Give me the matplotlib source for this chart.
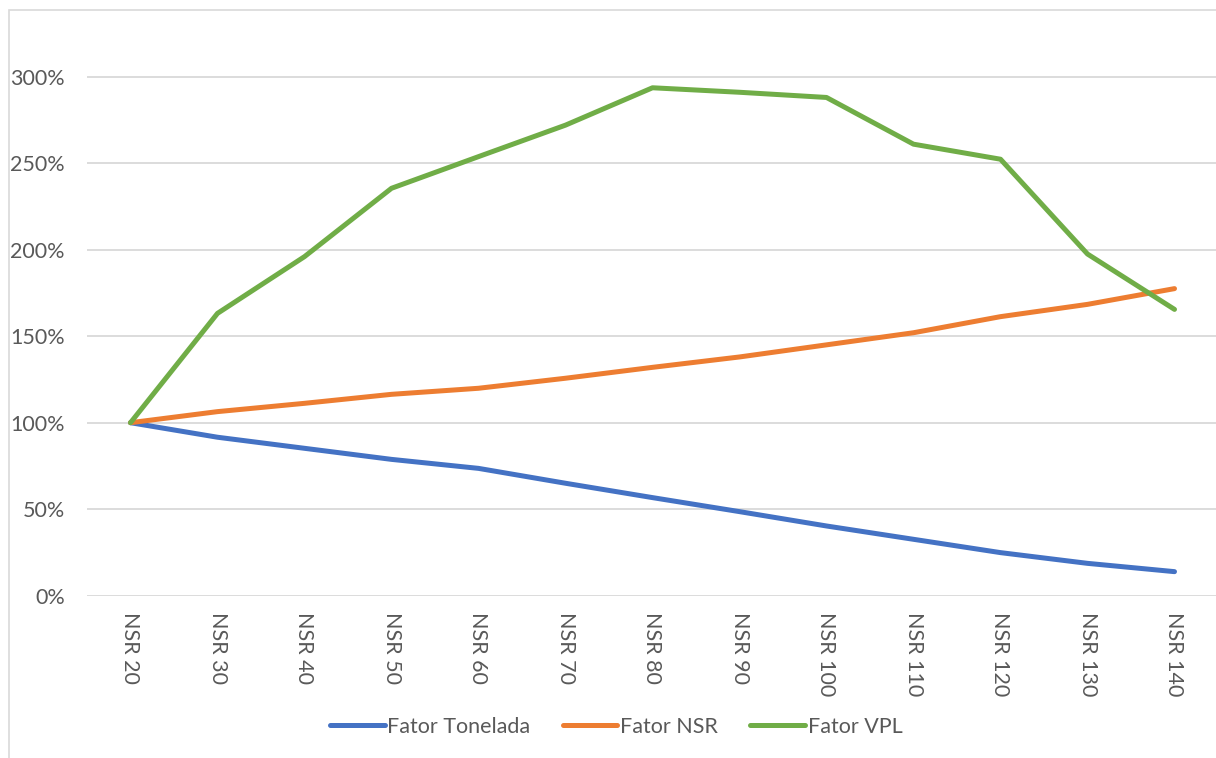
import matplotlib
matplotlib.use("Agg")
import matplotlib.pyplot as plt
from matplotlib.patches import Rectangle
from matplotlib.ticker import FuncFormatter

categories = ["NSR 20", "NSR 30", "NSR 40", "NSR 50", "NSR 60", "NSR 70", "NSR 80",
              "NSR 90", "NSR 100", "NSR 110", "NSR 120", "NSR 130", "NSR 140"]
fator_tonelada = [1.000, 0.916, 0.852, 0.788, 0.736, 0.650, 0.567,
                  0.486, 0.403, 0.326, 0.249, 0.187, 0.139]
fator_nsr = [1.000, 1.064, 1.112, 1.164, 1.199, 1.257, 1.320,
             1.380, 1.450, 1.520, 1.613, 1.684, 1.775]
fator_vpl = [1.000, 1.632, 1.960, 2.355, 2.538, 2.720, 2.936,
             2.910, 2.880, 2.610, 2.523, 1.975, 1.655]

series = [("Fator Tonelada", fator_tonelada, "#4472C4"),
          ("Fator NSR", fator_nsr, "#ED7D31"),
          ("Fator VPL", fator_vpl, "#70AD47")]

W, H = 1216, 758
FS = 15.5
plt.rcParams["font.family"] = ["Lato", "DejaVu Sans"]
fig = plt.figure(figsize=(W / 100, H / 100), dpi=100)

# chart-area frame
fig.patches.append(Rectangle((9 / W, -0.05), 1.1, 1 - 10 / H + 0.05, transform=fig.transFigure,
                             fill=False, edgecolor="#D9D9D9", linewidth=1.2, zorder=0))

# value axis runs 0..350 %, 173 px per 100 %; 87 px per category slot
ax = fig.add_axes([87 / W, (H - 595.7) / H, 1131 / W, 605.5 / H])
x = range(len(categories))
for name, vals, color in series:
    ax.plot(x, vals, color=color, linewidth=3.6, label=name,
            solid_capstyle="round", solid_joinstyle="round", zorder=3)

ax.set_xlim(-0.5, len(categories) - 0.5)
ax.set_ylim(0, 3.5)
ax.set_yticks([0, 0.5, 1.0, 1.5, 2.0, 2.5, 3.0])
ax.yaxis.set_major_formatter(FuncFormatter(lambda v, p: f"{v * 100:.0f}%"))
ax.set_xticks(list(x))
ax.set_xticklabels(categories, rotation=-90, va="top", ha="center")
ax.grid(axis="y", color="#D9D9D9", linewidth=1.3, zorder=0)
ax.set_axisbelow(True)
for s in ax.spines.values():
    s.set_visible(False)
ax.tick_params(axis="y", length=0, pad=16, labelsize=FS, labelcolor="#595959")
ax.tick_params(axis="x", length=0, pad=12, labelsize=FS, labelcolor="#595959")

leg = fig.legend(loc="center", bbox_to_anchor=(616 / W, (H - 727) / H), ncol=3,
                 frameon=False, fontsize=FS, handlelength=2.55, handletextpad=0.12,
                 columnspacing=1.5)
for t in leg.get_texts():
    t.set_color("#595959")
for h in leg.get_lines():
    h.set_linewidth(3.6)
    h.set_solid_capstyle("round")

fig.savefig("out.png", dpi=100)
